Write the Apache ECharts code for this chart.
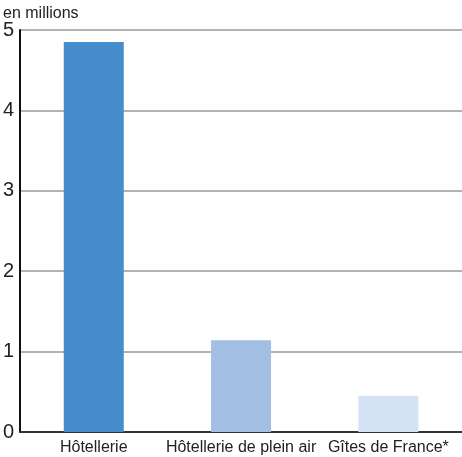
<!DOCTYPE html>
<html><head><meta charset="utf-8">
<script src="https://cdn.jsdelivr.net/npm/echarts@6/dist/echarts.min.js"></script>
<style>html,body{margin:0;padding:0;background:#fff}#c{width:462px;height:457px}</style>
</head><body><div id="c"></div>
<script>
const categories = ['Hôtellerie', 'Hôtellerie de plein air', 'Gîtes de France*'];
const values = [4.85, 1.14, 0.45];
const barColors = ['#478dcb', '#a2bfe3', '#d5e2f3'];
const unitLabel = 'en millions';
const FONT = '"Liberation Sans", Arial, sans-serif';
const chart = echarts.init(document.getElementById('c'));
chart.setOption({
  animation: false,
  grid: { left: 20, top: 30, width: 446, bottom: 25, containLabel: false },
  graphic: [{ type: 'text', left: 3, top: 6, style: { text: unitLabel, font: '16px ' + FONT, fill: '#222' } }],
  xAxis: {
    type: 'category', data: categories,
    axisLine: { lineStyle: { color: '#333', width: 2 } },
    axisTick: { show: false },
    axisLabel: { color: '#222', fontSize: 16, fontFamily: FONT, margin: 8, interval: 0 }
  },
  yAxis: {
    type: 'value', min: 0, max: 5, interval: 1,
    axisLine: { show: true, lineStyle: { color: '#111', width: 2 } },
    axisTick: { show: false },
    axisLabel: { color: '#222', fontSize: 20, fontFamily: FONT, margin: 6 },
    splitLine: { lineStyle: { color: '#b3b3b3', width: 2 } }
  },
  series: [{
    type: 'bar', barWidth: 60,
    data: values.map((v, i) => ({ value: v, itemStyle: { color: barColors[i] } }))
  }]
});
</script></body></html>
